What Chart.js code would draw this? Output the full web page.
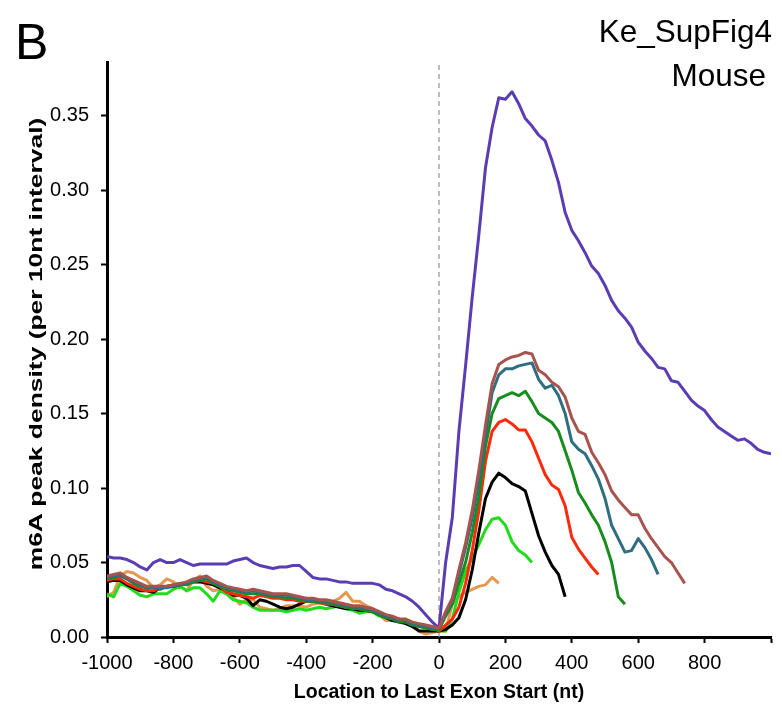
<!DOCTYPE html>
<html>
<head>
<meta charset="utf-8">
<script src="https://cdn.jsdelivr.net/npm/chart.js@4/dist/chart.umd.min.js"></script>
<style>
  html, body { margin: 0; padding: 0; background: #fff; }
  #wrap { position: relative; width: 782px; height: 711px; font-family: "Liberation Sans", Arial, sans-serif; }
  #wrap canvas { position: absolute; left: 0; top: 0; }
  .lbl { position: absolute; line-height: 1; color: #000; white-space: nowrap; }
  #ytitle { left: 36px; top: 344px; font-size: 18px; font-weight: bold; transform-origin: center; }
</style>
</head>
<body>
<div id="wrap">
  <canvas id="chart" width="782" height="711"></canvas>
  <div class="lbl" style="left:15px; top:17px; font-size:50px;">B</div>
  <div class="lbl" style="right:10px; top:16px; font-size:31.5px;">Ke_SupFig4</div>
  <div class="lbl" style="right:16px; top:60px; font-size:31.5px;">Mouse</div>
  <div class="lbl" id="ytitle">m6A peak density (per 10nt interval)</div>
</div>
<script>
// positions along the transcript, 20 nt apart (last exon starts at 0)
const positions = [
  -1000, -980, -960, -940, -920, -900, -880, -860, -840, -820,
  -800, -780, -760, -740, -720, -700, -680, -660, -640, -620,
  -600, -580, -560, -540, -520, -500, -480, -460, -440, -420,
  -400, -380, -360, -340, -320, -300, -280, -260, -240, -220,
  -200, -180, -160, -140, -120, -100, -80, -60, -40, -20,
  0, 20, 40, 60, 80, 100, 120, 140, 160, 180,
  200, 220, 240, 260, 280, 300, 320, 340, 360, 380,
  400, 420, 440, 460, 480, 500, 520, 540, 560, 580,
  600, 620, 640, 660, 680, 700, 720, 740, 760, 780,
  800, 820, 840, 860, 880, 900, 920, 940, 960, 980, 1000
];

const purple = [
  .054, .053, .053, .052, .050, .047, .045, .050, .052, .050,
  .050, .052, .050, .048, .049, .049, .049, .049, .049, .051,
  .052, .053, .050, .048, .047, .046, .047, .047, .048, .048,
  .044, .040, .039, .039, .038, .037, .037, .036, .036, .036,
  .036, .035, .032, .031, .029, .027, .024, .020, .015, .010,
  .006, .050, .080, .138, .182, .228, .270, .315, .342, .362,
  .361, .366, .358, .348, .343, .337, .333, .320, .305, .285,
  .273, .266, .258, .249, .244, .236, .226, .219, .214, .208,
  .198, .192, .187, .181, .180, .172, .171, .165, .159, .155,
  .152, .146, .141, .138, .135, .132, .133, .130, .126, .124, .123
];

const brown = [
  .041, .042, .043, .040, .038, .036, .034, .034, .034, .034,
  .035, .036, .037, .039, .040, .041, .038, .036, .034, .033,
  .032, .031, .032, .031, .030, .029, .029, .029, .028, .027,
  .026, .026, .025, .025, .024, .023, .022, .021, .021, .020,
  .019, .017, .015, .014, .012, .012, .010, .009, .008, .007,
  .006, .017, .026, .045, .063, .085, .112, .142, .170, .183,
  .186, .188, .189, .191, .190, .179, .176, .171, .168, .161,
  .147, .138, .136, .124, .117, .109, .098, .092, .087, .082,
  .082, .073, .066, .060, .054, .050, .043, .036
];

const teal = [
  .040, .041, .042, .039, .037, .035, .033, .033, .033, .033,
  .034, .035, .036, .038, .039, .040, .037, .035, .033, .032,
  .031, .030, .031, .030, .029, .028, .028, .028, .027, .026,
  .025, .025, .024, .024, .023, .022, .021, .020, .020, .019,
  .018, .016, .014, .013, .011, .011, .009, .008, .007, .006,
  .006, .016, .025, .042, .060, .080, .104, .135, .164, .176,
  .180, .180, .182, .183, .184, .173, .167, .169, .162, .150,
  .131, .126, .123, .115, .106, .093, .075, .066, .057, .058,
  .066, .060, .052, .042
];

const darkGreen = [
  .039, .040, .041, .039, .036, .034, .033, .033, .032, .034,
  .035, .036, .035, .037, .038, .039, .036, .034, .032, .031,
  .030, .029, .029, .029, .028, .027, .027, .026, .026, .025,
  .024, .024, .023, .023, .022, .021, .020, .019, .019, .018,
  .017, .015, .013, .012, .010, .010, .008, .007, .006, .005,
  .005, .014, .022, .036, .050, .070, .094, .128, .150, .160,
  .162, .164, .162, .165, .158, .150, .147, .144, .138, .125,
  .112, .097, .090, .082, .075, .064, .050, .027, .022
];

const red = [
  .038, .039, .039, .036, .034, .032, .031, .031, .033, .034,
  .035, .035, .036, .037, .038, .037, .036, .034, .030, .029,
  .028, .027, .026, .028, .027, .026, .026, .025, .025, .024,
  .024, .024, .023, .022, .022, .021, .020, .020, .019, .018,
  .017, .016, .014, .013, .012, .010, .009, .008, .007, .006,
  .004, .008, .012, .020, .036, .058, .085, .118, .138, .144,
  .146, .143, .139, .139, .131, .120, .109, .102, .099, .088,
  .067, .059, .053, .047, .042
];

const black = [
  .037, .038, .038, .035, .033, .031, .031, .030, .033, .034,
  .034, .035, .036, .037, .037, .036, .035, .033, .031, .028,
  .028, .026, .021, .025, .024, .022, .020, .019, .020, .022,
  .024, .024, .024, .022, .021, .020, .019, .019, .018, .018,
  .017, .015, .013, .011, .010, .009, .007, .004, .004, .004,
  .004, .005, .008, .013, .025, .045, .070, .093, .104, .110,
  .107, .103, .101, .098, .083, .068, .057, .048, .042, .027
];

const lightGreen = [
  .029, .027, .036, .034, .031, .028, .027, .029, .029, .029,
  .032, .034, .031, .033, .033, .029, .024, .031, .029, .025,
  .024, .023, .020, .018, .018, .018, .018, .017, .018, .019,
  .018, .019, .020, .019, .020, .021, .019, .018, .016, .017,
  .017, .014, .013, .012, .011, .010, .009, .008, .007, .006,
  .004, .004, .012, .030, .044, .053, .062, .072, .079, .080,
  .075, .064, .058, .055, .050
];

const orange = [
  .027, .030, .041, .044, .043, .040, .038, .033, .035, .039,
  .037, .034, .031, .038, .041, .034, .031, .032, .030, .027,
  .022, .025, .025, .020, .019, .018, .019, .021, .021, .021,
  .020, .022, .023, .024, .024, .026, .030, .024, .024, .021,
  .019, .015, .011, .011, .012, .011, .009, .004, .002, .003,
  .004, .004, .022, .027, .030, .032, .034, .035, .040, .036
];

// dashed marker at the exon start
const dividerX = [0, 0];
const dividerY = [0, 0.386];

const xTicks = [-1000, -800, -600, -400, -200, 0, 200, 400, 600, 800];

function toPoints(xs, ys) {
    return ys.map((v, i) => ({ x: xs[i], y: v }));
}

function line(label, vals, color) {
    return {
        label: label,
        data: toPoints(positions, vals),
        borderColor: color,
        borderWidth: 3,
        borderJoinStyle: 'round',
        pointRadius: 0,
        tension: 0,
        fill: false
    };
}

// the y title in the figure is stretched along its length
const yTitle = document.getElementById('ytitle');
const stretch = 452 / yTitle.offsetWidth;
yTitle.style.transform = 'translate(-50%, -50%) rotate(-90deg) scaleX(' + stretch + ')';

const FONT = '"Liberation Sans", Arial, sans-serif';

const ctx = document.getElementById('chart').getContext('2d');
new Chart(ctx, {
    type: 'line',
    data: {
        datasets: [
            line('brown', brown, '#a8544e'),
            line('teal', teal, '#2f6e80'),
            line('dark green', darkGreen, '#198c1e'),
            line('red', red, '#ff2a0c'),
            line('black', black, '#000000'),
            line('light green', lightGreen, '#22dc1c'),
            line('orange', orange, '#e3994f'),
            line('purple', purple, '#5a3db3'),
            {
                label: 'exon start',
                data: toPoints(dividerX, dividerY),
                borderColor: '#9a9a9a',
                borderWidth: 1.3,
                borderDash: [5, 4],
                pointRadius: 0,
                fill: false
            }
        ]
    },
    options: {
        responsive: false,
        animation: false,
        devicePixelRatio: 1,
        layout: { padding: { top: 62, right: 11, left: 0, bottom: 0 } },
        plugins: { legend: { display: false }, tooltip: { enabled: false } },
        scales: {
            x: {
                type: 'linear',
                min: -1000,
                max: 1000,
                afterFit: s => { s.height = 74; },
                ticks: {
                    stepSize: 200,
                    color: '#000',
                    font: { family: FONT, size: 20 },
                    padding: 8,
                    maxRotation: 0,
                    callback: v => xTicks.includes(v) ? String(v) : ''
                },
                grid: { drawOnChartArea: false, drawTicks: true, tickLength: 6, tickColor: '#000', tickWidth: 2 },
                border: { display: true, color: '#000', width: 3 },
                title: {
                    display: true,
                    text: 'Location to Last Exon Start (nt)',
                    color: '#000',
                    font: { family: FONT, size: 19.5, weight: 'bold' },
                    padding: { top: 0, bottom: 7 }
                }
            },
            y: {
                min: 0,
                max: 0.386,
                afterFit: s => { s.width = 107; },
                afterBuildTicks: s => { s.ticks = s.ticks.filter(t => t.value <= 0.3501); },
                ticks: {
                    stepSize: 0.05,
                    color: '#000',
                    font: { family: FONT, size: 20 },
                    padding: 12,
                    callback: v => v.toFixed(2)
                },
                grid: { drawOnChartArea: false, drawTicks: true, tickLength: 6, tickColor: '#000', tickWidth: 2 },
                border: { display: true, color: '#000', width: 3 }
            }
        }
    }
});
</script>
</body>
</html>
